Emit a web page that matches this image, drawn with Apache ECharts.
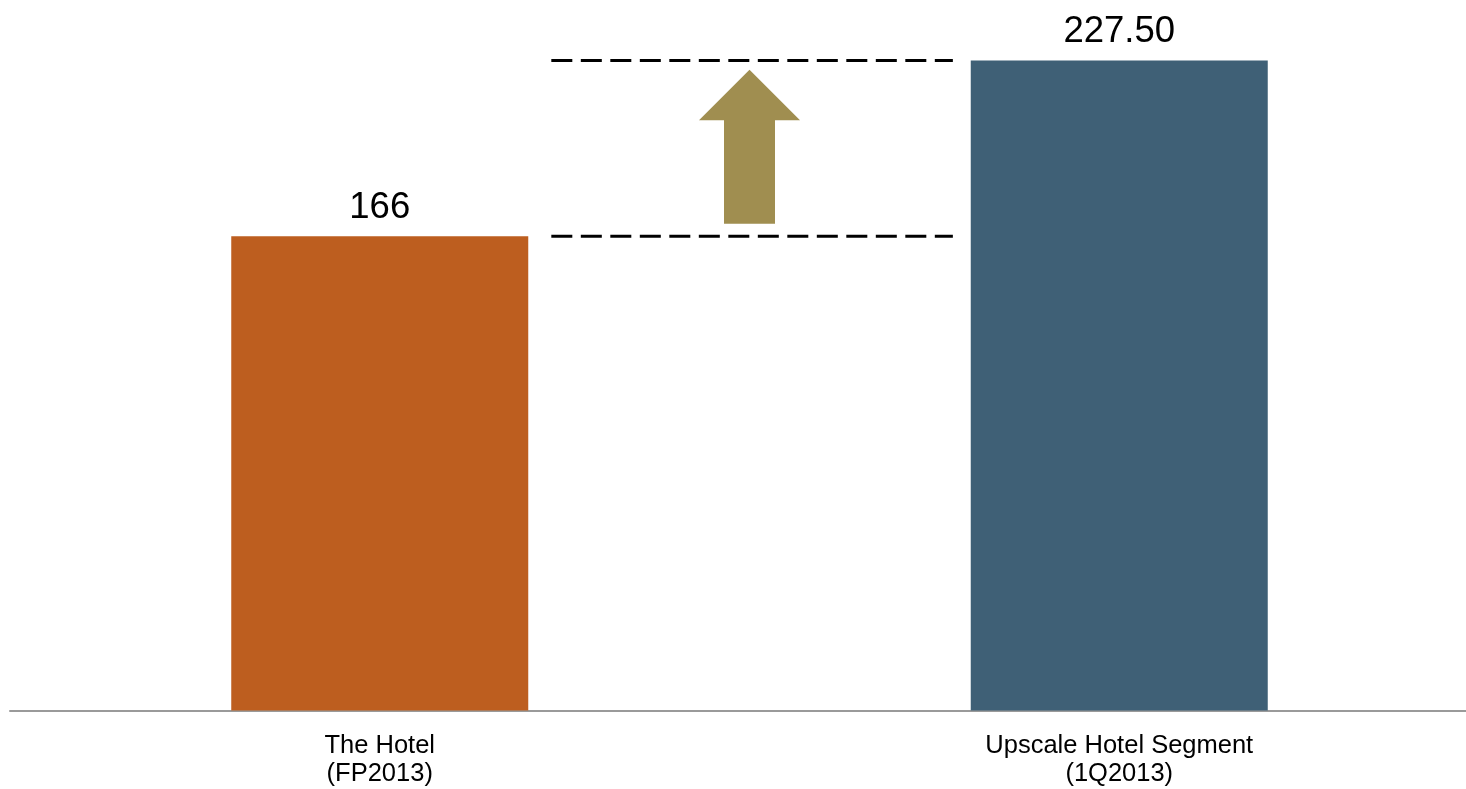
<!DOCTYPE html>
<html>
<head>
<meta charset="utf-8">
<style>
  html, body { margin: 0; padding: 0; background: #ffffff; }
  #chart { width: 1466px; height: 789px; }
</style>
<script src="https://cdn.jsdelivr.net/npm/echarts@6/dist/echarts.min.js"></script>
</head>
<body>
<div id="chart"></div>
<script>
// Average room rate comparison
const categories = ['The Hotel\n(FP2013)', 'Upscale Hotel Segment\n(1Q2013)'];
const values = [166, 227.5];
const valueLabels = ['166', '227.50'];
const barColors = ['#BD5E1F', '#3F6076'];

// Reference levels drawn as dashed guides between the bars
const guideLevels = [166, 227.5];
const guideSpan = [0.732, 1.275];        // along the 0..2 overlay axis
// Up arrow: centre, shaft bottom, head base, tip (value units)
const arrowShape = [1, 170.4, 206.6, 224.3];

const chart = echarts.init(document.getElementById('chart'), null, { renderer: 'canvas' });

const FONT = '"Liberation Sans", Arial, sans-serif';

chart.setOption({
  animation: false,
  backgroundColor: '#ffffff',
  grid: {
    left: 10, width: 1479, top: 2, bottom: 78.5,
    containLabel: false,
    outerBoundsMode: 'none'
  },
  xAxis: [
    {
      type: 'category',
      data: categories,
      axisLine: { show: true, lineStyle: { color: '#9A9A9A', width: 2 } },
      axisTick: { show: false },
      axisLabel: {
        color: '#000000',
        fontFamily: FONT,
        fontSize: 25.5,
        lineHeight: 28,
        margin: 21,
        interval: 0
      },
      splitLine: { show: false }
    },
    {
      type: 'value',
      min: 0,
      max: 2,
      show: false
    }
  ],
  yAxis: {
    type: 'value',
    min: 0,
    max: 248,
    show: false,
    splitLine: { show: false }
  },
  series: [
    {
      type: 'bar',
      xAxisIndex: 0,
      barWidth: 297,
      data: values.map((v, i) => ({
        value: v,
        itemStyle: { color: barColors[i] },
        label: { formatter: valueLabels[i] }
      })),
      label: {
        show: true,
        position: 'top',
        distance: 10,
        color: '#000000',
        fontFamily: FONT,
        fontSize: 36.5
      }
    },
    {
      // dashed guide lines
      type: 'custom',
      xAxisIndex: 1,
      data: guideLevels.map(v => [guideSpan[0], guideSpan[1], v]),
      renderItem: function (params, api) {
        const p0 = api.coord([api.value(0), api.value(2)]);
        const p1 = api.coord([api.value(1), api.value(2)]);
        return {
          type: 'line',
          shape: { x1: p0[0], y1: p0[1], x2: p1[0], y2: p1[1] },
          style: { stroke: '#000000', lineWidth: 3, lineDash: [21, 8.5] }
        };
      },
      silent: true
    },
    {
      // up arrow
      type: 'custom',
      xAxisIndex: 1,
      data: [arrowShape],
      renderItem: function (params, api) {
        const cx = api.value(0);
        const bottom = api.coord([cx, api.value(1)]);
        const base = api.coord([cx, api.value(2)]);
        const tip = api.coord([cx, api.value(3)]);
        const shaftHalf = 25.5, headHalf = 50.5;
        const x = bottom[0];
        return {
          type: 'polygon',
          shape: {
            points: [
              [x - shaftHalf, bottom[1]],
              [x - shaftHalf, base[1]],
              [x - headHalf, base[1]],
              [x, tip[1]],
              [x + headHalf, base[1]],
              [x + shaftHalf, base[1]],
              [x + shaftHalf, bottom[1]]
            ]
          },
          style: { fill: '#A08E50' }
        };
      },
      silent: true
    }
  ]
});
</script>
</body>
</html>
